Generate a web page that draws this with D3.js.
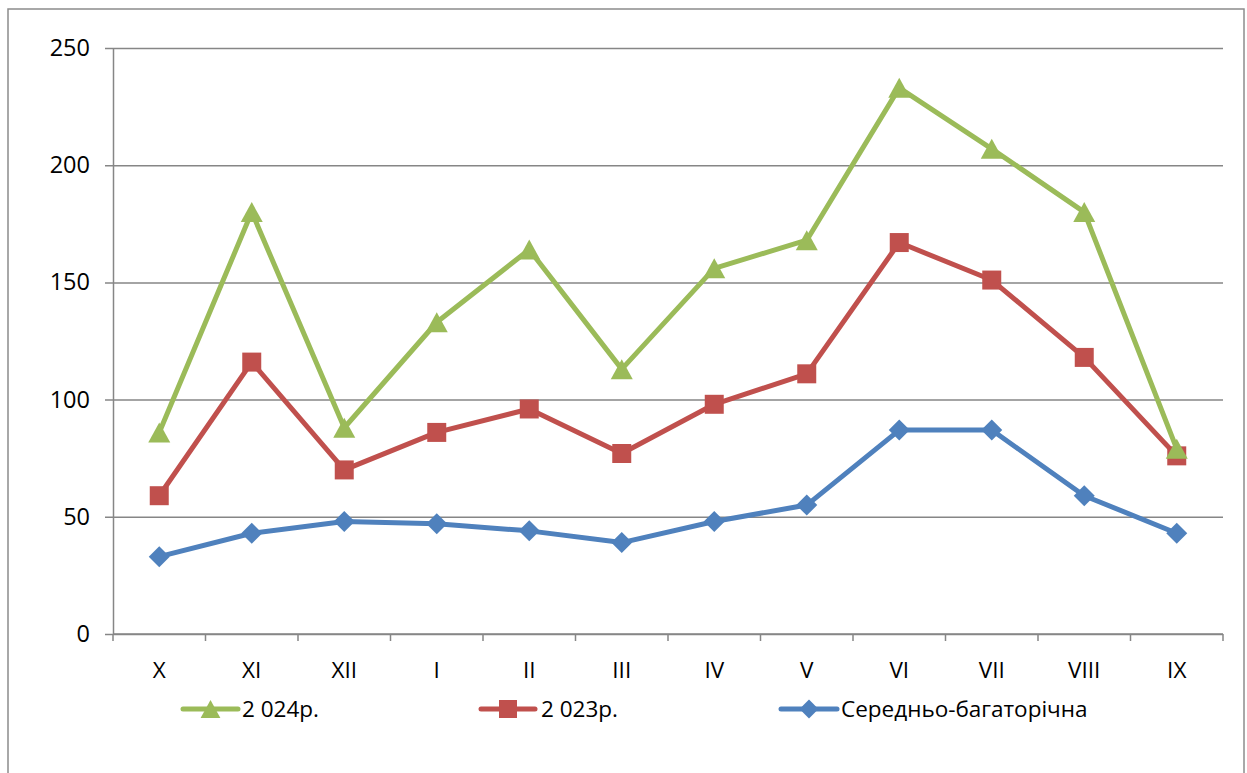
<!DOCTYPE html>
<html>
<head>
<meta charset="utf-8">
<script src="https://cdn.jsdelivr.net/npm/d3@7"></script>
<style>
  html, body { margin: 0; padding: 0; background: #fff; }
  svg { display: block; font-family: "Open Sans", "Noto Sans", sans-serif; }
</style>
</head>
<body>
<svg id="chart" width="1247" height="773"></svg>
<script>
// Months of the hydrological year, October to September
const months = ["X", "XI", "XII", "I", "II", "III", "IV", "V", "VI", "VII", "VIII", "IX"];
const values2024 = [86, 180, 88, 133, 164, 113, 156, 168, 233, 207, 180, 79];
const values2023 = [59, 116, 70, 86, 96, 77, 98, 111, 167, 151, 118, 76];
const valuesAvg = [33, 43, 48, 47, 44, 39, 48, 55, 87, 87, 59, 43];
const yTicks = [0, 50, 100, 150, 200, 250];
const seriesNames = ["2 024р.", "2 023р.", "Середньо-багаторічна"];

const svg = d3.select("#chart");
const plot = { left: 113, right: 1223, top: 48, bottom: 634 };
const gridColor = "#868686";

// outer frame
svg.append("rect")
  .attr("x", 8).attr("y", 9).attr("width", 1236).attr("height", 780)
  .attr("fill", "#fff").attr("stroke", "#8c8c8c").attr("stroke-width", 1.5);

const x = d3.scaleBand().domain(months).range([plot.left, plot.right]);
const y = d3.scaleLinear().domain([0, 250]).range([plot.bottom, plot.top]);

// horizontal gridlines with tick labels
const yAxis = d3.axisLeft(y).tickValues(yTicks).tickSize(-(plot.right - plot.left)).tickSizeOuter(0);
const gy = svg.append("g").attr("transform", `translate(${plot.left},0)`).call(yAxis);
gy.select(".domain").attr("stroke", gridColor).attr("stroke-width", 1.5);
gy.selectAll(".tick line").attr("stroke", gridColor).attr("stroke-width", 1.5).attr("x1", -8);
gy.selectAll(".tick text").attr("fill", "#000").attr("font-size", 23.5)
  .attr("font-family", "Open Sans").attr("x", -23);

// category axis
const gx = svg.append("g").attr("transform", `translate(0,${plot.bottom})`);
gx.append("line").attr("x1", plot.left).attr("x2", plot.right)
  .attr("stroke", gridColor).attr("stroke-width", 1.5);
const bounds = months.map(m => x(m)).concat([plot.right]);
gx.selectAll("line.tk").data(bounds).join("line").attr("class", "tk")
  .attr("x1", d => d).attr("x2", d => d).attr("y1", 0).attr("y2", 7)
  .attr("stroke", gridColor).attr("stroke-width", 1.5);
gx.selectAll("text").data(months).join("text")
  .attr("x", d => x(d) + x.bandwidth() / 2).attr("y", 44)
  .attr("text-anchor", "middle").attr("font-size", 22.5).attr("fill", "#000")
  .text(d => d);

// marker shapes
function markerPath(type, s) {
  const h = s / 2;
  if (type === "triangle") return `M0,${-h}L${h * 1.1},${h}L${-h * 1.1},${h}Z`;
  if (type === "square") return `M${-h},${-h}H${h}V${h}H${-h}Z`;
  return `M0,${-h * 1.05}L${h * 1.05},0L0,${h * 1.05}L${-h * 1.05},0Z`;
}

const series = [
  { name: seriesNames[2], values: valuesAvg, color: "#4F81BD", marker: "diamond", size: 20 },
  { name: seriesNames[1], values: values2023, color: "#C0504D", marker: "square", size: 19 },
  { name: seriesNames[0], values: values2024, color: "#9BBB59", marker: "triangle", size: 20 }
];

const cx = m => x(m) + x.bandwidth() / 2;
const line = d3.line().x((d, i) => cx(months[i])).y(d => y(d));

series.forEach(s => {
  const g = svg.append("g");
  g.append("path").datum(s.values).attr("d", line)
    .attr("fill", "none").attr("stroke", s.color).attr("stroke-width", 5)
    .attr("stroke-linejoin", "round").attr("stroke-linecap", "round");
  g.selectAll("path.mk").data(s.values).join("path").attr("class", "mk")
    .attr("transform", (d, i) => `translate(${cx(months[i])},${y(d)})`)
    .attr("d", markerPath(s.marker, s.size)).attr("fill", s.color);
});

// legend
const legend = [
  { name: seriesNames[0], color: "#9BBB59", marker: "triangle", x0: 183, x1: 238, tx: 242 },
  { name: seriesNames[1], color: "#C0504D", marker: "square", x0: 481, x1: 535, tx: 541 },
  { name: seriesNames[2], color: "#4F81BD", marker: "diamond", x0: 781, x1: 837, tx: 841 }
];
const ly = 709;
legend.forEach(l => {
  const g = svg.append("g");
  g.append("line").attr("x1", l.x0).attr("x2", l.x1).attr("y1", ly).attr("y2", ly)
    .attr("stroke", l.color).attr("stroke-width", 5).attr("stroke-linecap", "round");
  g.append("path").attr("transform", `translate(${(l.x0 + l.x1) / 2},${ly})`)
    .attr("d", markerPath(l.marker, 18)).attr("fill", l.color);
  g.append("text").attr("x", l.tx).attr("y", ly).attr("dy", "0.35em")
    .attr("font-size", 22.5).attr("fill", "#000").text(l.name);
});
</script>
</body>
</html>
